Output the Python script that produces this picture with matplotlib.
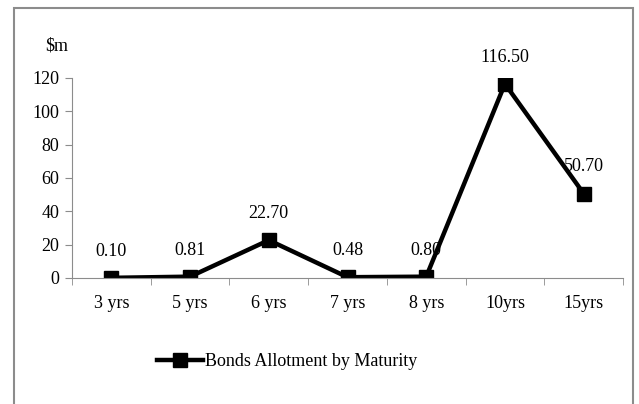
import matplotlib.pyplot as plt
from matplotlib.patches import Rectangle

# data
maturities = ["3 yrs", "5 yrs", "6 yrs", "7 yrs", "8 yrs", "10yrs", "15yrs"]
allotment = [0.10, 0.81, 22.70, 0.48, 0.80, 116.50, 50.70]
yticks = [0, 20, 40, 60, 80, 100, 120]

plt.rcParams["font.family"] = ["Liberation Serif", "DejaVu Serif"]
plt.rcParams["font.size"] = 13

fig = plt.figure(figsize=(6.39, 4.04), dpi=100)
ax = fig.add_axes([72/639, 1 - 278/404, (623 - 72)/639, 200/404])

# outer chart border
fig.patches.append(Rectangle((14/639, -0.05), (633 - 14)/639, 1.05 - 8/404,
                             transform=fig.transFigure, fill=False,
                             edgecolor="#8c8c8c", linewidth=1.5))

x = list(range(len(maturities)))
ax.plot(x, allotment, color="black", linewidth=3.2, marker="s", markersize=10.5,
        label="Bonds Allotment by Maturity")

for xi, v in zip(x, allotment):
    ax.annotate(f"{v:.2f}", (xi, v), xytext=(0, 13), textcoords="offset points",
                ha="center", va="bottom", fontsize=13)

ax.set_xlim(-0.5, len(maturities) - 0.5)
ax.set_ylim(0, 120)
ax.set_yticks(yticks)
ax.set_xticks(x)
ax.set_xticklabels(maturities)
ax.set_xticks([i - 0.5 for i in range(len(maturities) + 1)], minor=True)
ax.tick_params(axis="x", which="major", length=0, pad=12)
ax.tick_params(axis="x", which="minor", length=5, color="#8c8c8c", direction="out")
ax.tick_params(axis="y", length=5, color="#8c8c8c", direction="out", pad=4)

for side in ["top", "right"]:
    ax.spines[side].set_visible(False)
for side in ["left", "bottom"]:
    ax.spines[side].set_color("#8c8c8c")

fig.text(45/639, 1 - 46/404, "$m", fontsize=13, ha="left", va="center")

fig.legend(loc="center", bbox_to_anchor=(287/639, 1 - 362/404), frameon=False,
           handlelength=2.6, handletextpad=0.1, fontsize=13)

plt.savefig("out.png", dpi=100)
